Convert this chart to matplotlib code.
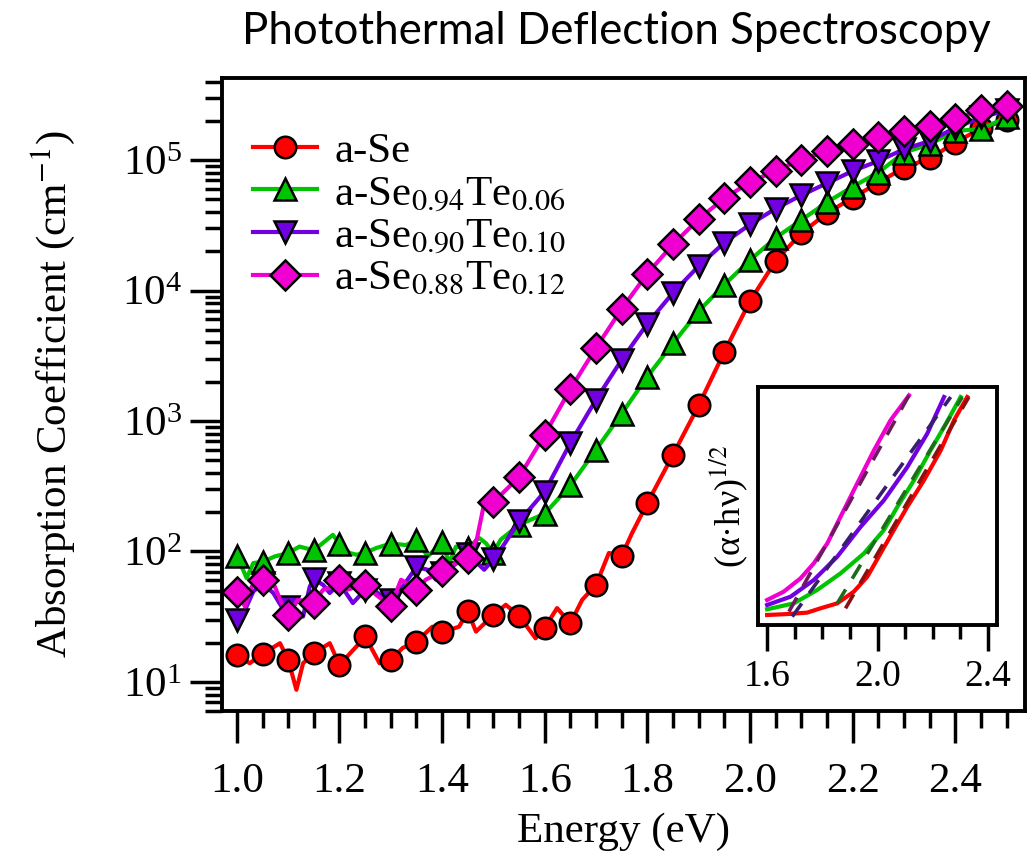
import matplotlib
matplotlib.use("Agg")
import matplotlib.pyplot as plt
import numpy as np
from matplotlib.ticker import MultipleLocator, LogLocator, NullFormatter

plt.rcParams['font.family'] = ['Liberation Serif', 'DejaVu Serif']
plt.rcParams['mathtext.fontset'] = 'stix'

# ---- main data: energy (eV) and absorption coefficient (cm^-1) ----
E_se = [1.0, 1.025, 1.05, 1.084, 1.1, 1.116, 1.129, 1.15, 1.181, 1.2, 1.233, 1.25, 1.278, 1.3,
        1.323, 1.35, 1.381, 1.4, 1.433, 1.45, 1.466, 1.5, 1.524, 1.55, 1.582, 1.6, 1.624, 1.65,
        1.673, 1.7, 1.725, 1.75, 1.77, 1.8, 1.85, 1.9, 1.95, 2.0, 2.05, 2.1, 2.15, 2.2, 2.25,
        2.3, 2.35, 2.4, 2.45, 2.5]
a_se = [16.1, 13.9, 16.4, 19.8, 14.8, 8.7, 13.9, 16.6, 19.8, 13.5, 18.7, 22.3, 13.9, 14.8,
        18.2, 20.4, 26.5, 24.0, 26.5, 34.7, 24.3, 32.7, 39.0, 32.1, 21.6, 26.1, 36.8, 28.2,
        42.6, 55.5, 97.3, 92.7, 138, 235, 552, 1318, 3390, 8300, 16900, 27500, 39200, 51400,
        67000, 87500, 103000, 136000, 175000, 202000]

E_te06 = [1.0, 1.019, 1.032, 1.05, 1.074, 1.1, 1.122, 1.15, 1.187, 1.2, 1.22, 1.233, 1.25, 1.271,
          1.3, 1.33, 1.35, 1.372, 1.4, 1.414, 1.427, 1.45, 1.472, 1.485, 1.5, 1.514, 1.55, 1.6,
          1.65, 1.7, 1.75, 1.8, 1.85, 1.9, 1.95, 2.0, 2.05, 2.1, 2.15, 2.2, 2.25, 2.3, 2.35,
          2.4, 2.45, 2.5]
a_te06 = [93, 62.5, 81.5, 83.2, 91.6, 97.3, 109, 102, 134, 115, 97.3, 94.4, 97.7, 106,
          115, 112, 123, 91.6, 118, 81.5, 109, 106, 127, 116, 97.3, 123, 160, 195,
          321, 603, 1140, 2190, 3940, 6950, 11100, 17100, 25400, 34700, 47500, 62500, 80200,
          114000, 132000, 167000, 173000, 212000]

E_te10 = [1.0, 1.016, 1.032, 1.05, 1.071, 1.087, 1.1, 1.129, 1.142, 1.15, 1.168, 1.181, 1.2,
          1.226, 1.25, 1.271, 1.284, 1.3, 1.323, 1.35, 1.372, 1.388, 1.4, 1.42, 1.45, 1.482,
          1.5, 1.52, 1.55, 1.6, 1.65, 1.7, 1.75, 1.8, 1.85, 1.9, 1.95, 2.0, 2.05, 2.1, 2.15,
          2.2, 2.25, 2.3, 2.35, 2.4, 2.45, 2.5]
a_te10 = [29.9, 35.7, 49.3, 57.1, 48.0, 37.8, 37.4, 31.7, 53.8, 61.4, 55.5, 48.0, 57.1,
          40.2, 50.8, 49.3, 45.2, 42.6, 53.8, 75.9, 72.4, 60.7, 68.2, 76.7, 95.5, 72.4,
          87.1, 112, 170, 288, 679, 1460, 2950, 5580, 9620, 15400, 23300, 32100, 42500,
          53700, 66500, 82400, 98400, 121000, 140000, 177000, 212000, 241000]

E_te12 = [1.0, 1.016, 1.029, 1.05, 1.074, 1.087, 1.1, 1.119, 1.15, 1.168, 1.187, 1.2, 1.213,
          1.25, 1.271, 1.3, 1.32, 1.35, 1.368, 1.4, 1.427, 1.45, 1.468, 1.48, 1.5, 1.55, 1.6,
          1.65, 1.7, 1.75, 1.8, 1.85, 1.9, 1.95, 2.0, 2.05, 2.1, 2.15, 2.2, 2.25, 2.3, 2.35,
          2.4, 2.45, 2.5]
a_te12 = [49.3, 37.8, 53.8, 60.7, 53.8, 40.2, 32.7, 42.6, 40.6, 50.8, 53.8, 60.7, 50.8,
          55.5, 46.6, 38.3, 60.7, 50.8, 60.7, 70.3, 81.5, 88.9, 126, 214, 239, 372, 787,
          1760, 3640, 7240, 13500, 22600, 35300, 51000, 67600, 83000, 101000, 117000,
          132000, 151000, 167000, 183000, 206000, 241000, 260000]

labels = ['a-Se', 'a-Se$_{0.94}$Te$_{0.06}$', 'a-Se$_{0.90}$Te$_{0.10}$', 'a-Se$_{0.88}$Te$_{0.12}$']
colors = ['#ff0000', '#00c400', '#7000e0', '#f000d0']
markers = ['o', '^', 'v', 'D']
msizes = [15.5, 16.5, 16.5, 15]

# ---- inset: (alpha*h*nu)^(1/2), arbitrary units ----
Ei_se = [1.6, 1.673, 1.745, 1.793, 1.854, 1.914, 1.963, 2.011, 2.059, 2.108, 2.168, 2.229, 2.277, 2.325]
yi_se = [4.2, 4.6, 5.2, 7.0, 9.1, 14.0, 20.3, 30.1, 39.9, 49.7, 60.8, 73.4, 86.0, 95.8]
Ei_te06 = [1.6, 1.697, 1.781, 1.866, 1.951, 2.023, 2.072, 2.132, 2.192, 2.241, 2.301]
yi_te06 = [6.6, 9.1, 14.7, 21.7, 30.1, 39.9, 49.7, 60.8, 73.4, 83.2, 95.8]
Ei_te10 = [1.6, 1.685, 1.769, 1.854, 1.939, 2.023, 2.108, 2.18, 2.241]
yi_te10 = [8.4, 11.9, 18.9, 28.7, 41.3, 52.4, 66.4, 80.4, 95.8]
Ei_te12 = [1.6, 1.66, 1.721, 1.769, 1.818, 1.866, 1.926, 1.987, 2.047, 2.114]
yi_te12 = [10.5, 14, 19.6, 25.9, 34.3, 45.5, 59.4, 73.4, 86, 96.5]
# linear Tauc fits (end points)
fit_E = [[1.884, 2.331], [1.854, 2.307], [1.691, 2.265], [1.679, 2.114]]
fit_y = [[7.0, 95.8], [9.1, 95.8], [3.5, 95.8], [5.6, 96.5]]
fit_colors = ['#8c1010', '#1d6b1d', '#3a1e6e', '#6e1a5e']

fig = plt.figure(figsize=(10.33, 8.61), dpi=100)
ax = fig.add_axes([0.2149, 0.1742, 0.7774, 0.7352])

series = [(E_se, a_se), (E_te06, a_te06), (E_te10, a_te10), (E_te12, a_te12)]
for (E, a), lab, c, m, ms in zip(series, labels, colors, markers, msizes):
    E = np.array(E)
    idx = [i for i, e in enumerate(E) if abs(e / 0.05 - round(e / 0.05)) < 1e-6]
    ax.plot(E, a, color=c, lw=3, marker=m, ms=ms, mfc=c, mec='black', mew=1.8,
            markevery=idx, label=lab)

ax.set_yscale('log')
ax.set_xlim(0.971, 2.536)
ax.set_ylim(10**0.777, 10**5.629)
ax.xaxis.set_major_locator(MultipleLocator(0.2))
ax.xaxis.set_minor_locator(MultipleLocator(0.05))
ax.xaxis.set_major_formatter(plt.FuncFormatter(lambda v, p: f"{v:.1f}"))
ax.yaxis.set_major_locator(LogLocator(base=10, numticks=10))
ax.yaxis.set_minor_locator(LogLocator(base=10, subs=np.arange(2, 10), numticks=10))
ax.yaxis.set_minor_formatter(NullFormatter())
ax.tick_params(which='both', direction='out', width=2.5, labelsize=31, top=False, right=False)
ax.tick_params(which='major', length=23, pad=6)
ax.tick_params(axis='x', which='major', pad=14)
ax.tick_params(which='minor', length=12)
for s in ax.spines.values():
    s.set_linewidth(2.8)

ax.set_xlabel('Energy (eV)', fontsize=31, labelpad=8)
ax.set_ylabel('Absorption Coefficient (cm$^{-1}$)', fontsize=31, labelpad=32)

ax.legend(loc='upper left', bbox_to_anchor=(0.038, 0.915), frameon=False, fontsize=31,
          handlelength=1.5, handletextpad=0.4, labelspacing=0.08, borderpad=0, borderaxespad=0)

fig.text(616 / 1033, 1 - 32 / 861, 'Photothermal Deflection Spectroscopy', ha='center', va='center',
         fontsize=31.5, family=['Lato', 'DejaVu Sans'])

# ---- inset ----
axi = fig.add_axes([0.7338, 0.2741, 0.2314, 0.2764])
inset = [(Ei_se, yi_se), (Ei_te06, yi_te06), (Ei_te10, yi_te10), (Ei_te12, yi_te12)]
for (E, y), c in zip(inset, colors):
    axi.plot(E, y, color=c, lw=3)
for fe, fy, fc in zip(fit_E, fit_y, fit_colors):
    axi.plot(fe, fy, color=fc, lw=2.6, dashes=(4.5, 3.5))
axi.set_xlim(1.567, 2.433)
axi.set_ylim(0, 100)
axi.xaxis.set_major_locator(MultipleLocator(0.4))
axi.xaxis.set_minor_locator(MultipleLocator(0.1))
axi.xaxis.set_major_formatter(plt.FuncFormatter(lambda v, p: f"{v:.1f}"))
axi.set_yticks([])
axi.tick_params(which='both', direction='out', width=2.5, labelsize=27)
axi.tick_params(which='major', length=19, pad=6)
axi.tick_params(which='minor', length=10)
for s in axi.spines.values():
    s.set_linewidth(2.8)
axi.set_ylabel('(α·hν)$^{1/2}$', fontsize=26, labelpad=6)

fig.savefig('out.png', dpi=100)
